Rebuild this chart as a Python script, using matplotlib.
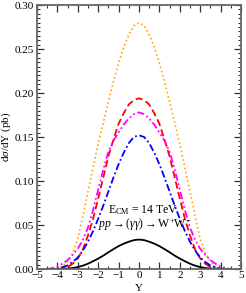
import numpy as np
import matplotlib
matplotlib.use("Agg")
import matplotlib.pyplot as plt
from matplotlib.ticker import MultipleLocator

# rapidity grid (half, mirrored)
y_half = [0.0, 0.25, 0.5, 0.75, 1.0, 1.25, 1.5, 1.75, 2.0, 2.25, 2.5, 2.75,
          3.0, 3.25, 3.5, 3.75, 4.0, 4.25, 4.5]
orange_half = [0.280, 0.2765, 0.266, 0.252, 0.234, 0.213, 0.190, 0.166, 0.142, 0.115,
               0.088, 0.060, 0.034, 0.018, 0.008, 0.003, 0.0005, 0.0, 0.0]
red_half = [0.194, 0.192, 0.187, 0.177, 0.165, 0.147, 0.128, 0.104, 0.080, 0.057,
            0.038, 0.022, 0.012, 0.006, 0.002, 0.0005, 0.0, 0.0, 0.0]
magenta_half = [0.178, 0.176, 0.171, 0.164, 0.155, 0.146, 0.133, 0.113, 0.090, 0.067,
                0.047, 0.033, 0.023, 0.016, 0.010, 0.006, 0.003, 0.001, 0.0]
blue_half = [0.152, 0.150, 0.143, 0.132, 0.119, 0.104, 0.088, 0.072, 0.057, 0.043,
             0.031, 0.021, 0.013, 0.008, 0.004, 0.002, 0.0005, 0.0, 0.0]
black_half = [0.0335, 0.0328, 0.031, 0.0288, 0.026, 0.0226, 0.019, 0.0152, 0.0118, 0.0088,
              0.006, 0.0038, 0.0022, 0.0011, 0.0005, 0.0002, 0.0, 0.0, 0.0]

def mirror(v):
    return list(v[:0:-1]) + list(v)

Y = [-v for v in y_half[:0:-1]] + y_half

plt.rcParams['font.family'] = ['Liberation Serif', 'DejaVu Serif']
plt.rcParams['mathtext.fontset'] = 'custom'
plt.rcParams['mathtext.rm'] = 'Liberation Serif'
plt.rcParams['mathtext.it'] = 'Liberation Serif:italic'

fig = plt.figure(figsize=(2.46, 2.93), dpi=100)
ax = fig.add_axes([0.150, 0.0819, 0.830, 0.901])

ax.plot(Y, mirror(orange_half), color='#FFA500', linestyle=(0, (1, 1.6)), lw=1.2)
ax.plot(Y, mirror(red_half), color='#FF0000', linestyle=(0, (4, 2)), lw=1.3)
ax.plot(Y, mirror(magenta_half), color='#FF00FF', linestyle=(0, (4, 1.5, 1, 1.5, 1, 1.5)), lw=1.3)
ax.plot(Y, mirror(blue_half), color='#0000FF', linestyle=(0, (4, 1.5, 1, 1.5)), lw=1.3)
ax.plot(Y, mirror(black_half), color='black', linestyle='-', lw=1.3)

ax.set_xlim(-5, 5)
ax.set_ylim(0, 0.30)
ax.xaxis.set_major_locator(MultipleLocator(1))
ax.xaxis.set_minor_locator(MultipleLocator(0.5))
ax.yaxis.set_major_locator(MultipleLocator(0.05))
ax.yaxis.set_minor_locator(MultipleLocator(0.005))
ax.yaxis.set_major_formatter(matplotlib.ticker.FormatStrFormatter('%.2f'))
ax.tick_params(which='both', direction='in', top=True, right=True, labelsize=8,
               color='#333333')
ax.tick_params(axis='y', pad=2)
ax.tick_params(axis='x', pad=1.5)
ax.tick_params(which='major', length=5, width=0.9)
ax.tick_params(which='minor', length=2.5, width=0.8)
for s in ax.spines.values():
    s.set_color('#666666')
    s.set_linewidth(1.3)

ax.set_xlabel('Y', fontsize=8)
ax.xaxis.set_label_coords(0.5, -0.058)
ax.set_ylabel(r'd$\sigma$/dY (pb)', fontsize=8)
ax.yaxis.set_label_coords(-0.118, 0.5)

ax.text(-1.52, 0.067, r'E$_{\rm CM}$ = 14 TeV', fontsize=8.5, va='center', ha='left')
ax.text(-2.0, 0.051, r'$pp\rightarrow(\gamma\gamma)\rightarrow$W$^{+}$W$^{-}$',
        fontsize=8.5, va='center', ha='left')

fig.savefig('out.png', dpi=100)
